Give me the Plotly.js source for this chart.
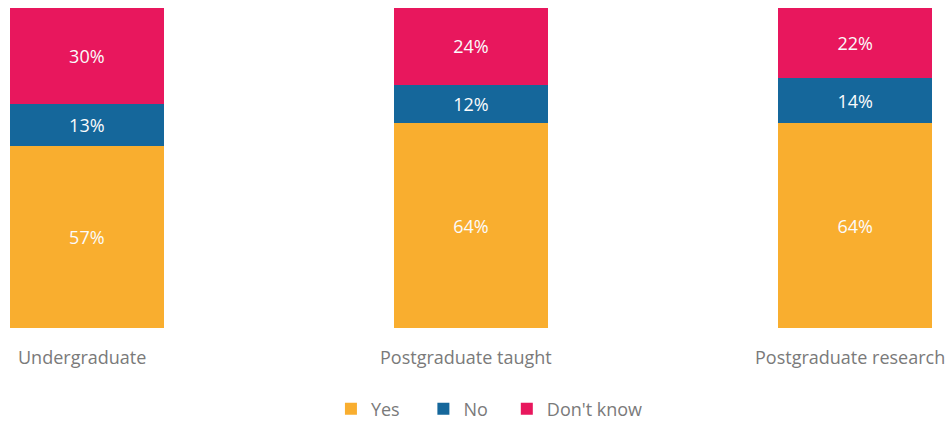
<!DOCTYPE html>
<html>
<head>
<meta charset="utf-8">
<script src="https://cdn.plot.ly/plotly-3.0.1.min.js"></script>
<style>html,body{margin:0;padding:0;background:#fff;}#chart{width:952px;height:421px;}</style>
</head>
<body>
<div id="chart"></div>
<script>
const categories = ["Undergraduate", "Postgraduate taught", "Postgraduate research"];
const yesValues = [57, 64, 64];
const noValues = [13, 12, 14];
const dontKnowValues = [30, 24, 22];
const seriesNames = ["Yes", "No", "Don't know"];
const seriesColors = ["#F9AE2F", "#15679B", "#E8175D"];

// trailing non-breaking spaces only widen the legend gaps
const legendPad = ["\u00a0\u00a0\u00a0\u00a0", "\u00a0\u00a0\u00a0", ""];

const allValues = [yesValues, noValues, dontKnowValues];
const traces = allValues.map((vals, i) => ({
  type: "bar",
  name: seriesNames[i] + legendPad[i],
  x: categories,
  y: vals,
  marker: {color: seriesColors[i], line: {width: 0}},
  width: 0.401,
  text: vals.map(v => v + "%"),
  textposition: "inside",
  insidetextanchor: "middle",
  textangle: 0,
  textfont: {color: "#fbfbfb", size: 18, family: "Open Sans"},
  hoverinfo: "skip"
}));

// category labels drawn as annotations so they can sit slightly left of bar centre
const categoryLabels = categories.map(c => ({
  x: c,
  y: 0,
  xref: "x",
  yref: "y",
  text: c,
  showarrow: false,
  xanchor: "center",
  yanchor: "top",
  yshift: -15,
  xshift: -5,
  font: {size: 18, color: "#7a7a7a", family: "Open Sans"}
}));

const layout = {
  width: 952,
  height: 421,
  barmode: "stack",
  margin: {l: 10, r: 20, t: 8, b: 93, autoexpand: false},
  paper_bgcolor: "#ffffff",
  plot_bgcolor: "#ffffff",
  font: {family: "Open Sans", color: "#7a7a7a", size: 18},
  xaxis: {
    type: "category",
    range: [-0.2, 2.2],
    showgrid: false,
    zeroline: false,
    showline: false,
    ticks: "",
    showticklabels: false,
    automargin: false
  },
  yaxis: {
    range: [0, 100],
    visible: false,
    showgrid: false,
    zeroline: false,
    automargin: false
  },
  annotations: categoryLabels,
  showlegend: true,
  legend: {
    orientation: "h",
    x: 0.52,
    xanchor: "center",
    y: -0.253,
    yanchor: "middle",
    font: {size: 18, color: "#7a7a7a", family: "Open Sans"},
    itemclick: false,
    traceorder: "normal"
  },
  uniformtext: {mode: false}
};

Plotly.newPlot("chart", traces, layout, {displayModeBar: false, staticPlot: true});
</script>
</body>
</html>
